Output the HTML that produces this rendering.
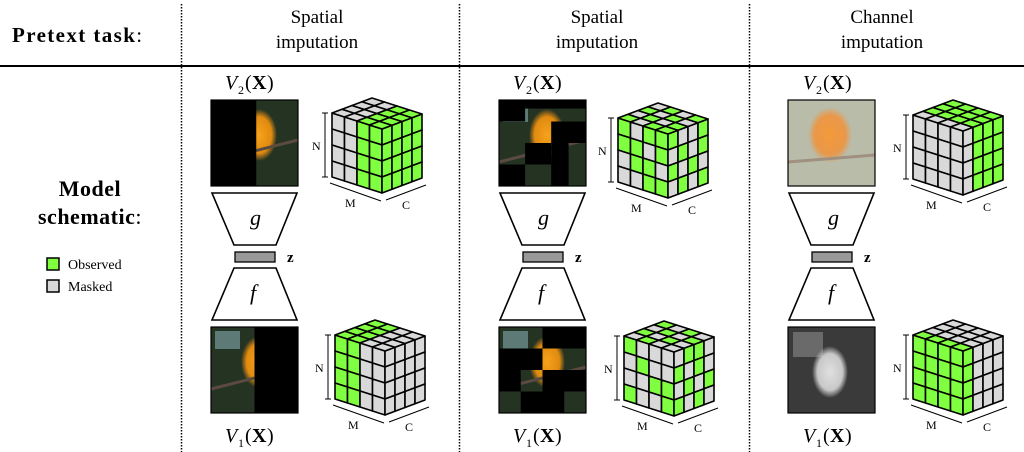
<!DOCTYPE html>
<html><head><meta charset="utf-8">
<style>
html,body{margin:0;padding:0;background:#fff;}
svg{display:block;font-family:"Liberation Serif","DejaVu Serif",serif;}
</style></head>
<body>
<svg id="s" width="1024" height="452" viewBox="0 0 1024 452" xmlns="http://www.w3.org/2000/svg">
<defs>
<radialGradient id="bird" cx="0.5" cy="0.5" r="0.5"><stop offset="0" stop-color="#f7a21a"/><stop offset="0.7" stop-color="#e08a10"/><stop offset="1" stop-color="#e08a10" stop-opacity="0"/></radialGradient>
<radialGradient id="birdp" cx="0.5" cy="0.5" r="0.5"><stop offset="0" stop-color="#f39a3a"/><stop offset="0.7" stop-color="#e9984a"/><stop offset="1" stop-color="#e9984a" stop-opacity="0"/></radialGradient>
<radialGradient id="birdg" cx="0.5" cy="0.5" r="0.5"><stop offset="0" stop-color="#e0e0e0"/><stop offset="0.7" stop-color="#c8c8c8"/><stop offset="1" stop-color="#c8c8c8" stop-opacity="0"/></radialGradient>
</defs>
<text x="12" y="42" font-size="21" font-weight="bold" letter-spacing="1.4">Pretext task<tspan font-weight="normal">:</tspan></text>
<g font-size="19" text-anchor="middle">
<text x="317" y="23">Spatial</text><text x="317" y="48">imputation</text>
<text x="597" y="23">Spatial</text><text x="597" y="48">imputation</text>
<text x="882" y="23">Channel</text><text x="882" y="48">imputation</text>
</g>
<line x1="0" y1="66" x2="1024" y2="66" stroke="#000" stroke-width="2"/>
<g stroke="#000" stroke-width="1.5" stroke-dasharray="1.5,1.5">
<line x1="181.5" y1="4" x2="181.5" y2="452"/>
<line x1="459.5" y1="4" x2="459.5" y2="452"/>
<line x1="749.5" y1="4" x2="749.5" y2="452"/>
</g>
<text x="90" y="196" font-size="22" font-weight="bold" text-anchor="middle" letter-spacing="0.5">Model</text>
<text x="90" y="224" font-size="22" font-weight="bold" text-anchor="middle" letter-spacing="0.5">schematic<tspan font-weight="normal">:</tspan></text>
<rect x="47" y="258" width="12" height="12" fill="#80ff40" stroke="#000" stroke-width="1.5"/>
<rect x="47" y="280" width="12" height="12" fill="#d9d9d9" stroke="#000" stroke-width="1.5"/>
<text x="68" y="269" font-size="14">Observed</text>
<text x="68" y="291" font-size="14">Masked</text>
<g id="cols"></g>
</svg>
<script>
const NS="http://www.w3.org/2000/svg";
const root=document.getElementById('cols');
function el(t,a,txt){const e=document.createElementNS(NS,t);for(const k in a)e.setAttribute(k,a[k]);if(txt!==undefined)e.textContent=txt;root.appendChild(e);return e;}
const G="#80ff40",X="#d9d9d9";
function poly(pts,fill){el('polygon',{points:pts.map(p=>p[0].toFixed(1)+','+p[1].toFixed(1)).join(' '),fill:fill,stroke:'#000','stroke-width':1.6,'stroke-linejoin':'round'});}
function cube(ax,ay,L,R,T){
 const u=[50,16],v=[40,-15],h=64;
 const P=(i,k,j)=>[ax+i*u[0]/4+k*v[0]/4, ay+i*u[1]/4+k*v[1]/4+j*h/4];
 for(let i=0;i<4;i++)for(let j=0;j<4;j++)poly([P(i,0,j),P(i+1,0,j),P(i+1,0,j+1),P(i,0,j+1)],L(i,j)?G:X);
 for(let k=0;k<4;k++)for(let j=0;j<4;j++)poly([P(4,k,j),P(4,k+1,j),P(4,k+1,j+1),P(4,k,j+1)],R(k,j)?G:X);
 for(let i=0;i<4;i++)for(let k=0;k<4;k++)poly([P(i,k,0),P(i+1,k,0),P(i+1,k+1,0),P(i,k+1,0)],T(i,k)?G:X);
 const s={stroke:'#000','stroke-width':1};
 el('line',Object.assign({x1:ax-7,y1:ay,x2:ax-7,y2:ay+h},s));
 el('line',Object.assign({x1:ax-10,y1:ay,x2:ax-4,y2:ay},s));
 el('line',Object.assign({x1:ax-10,y1:ay+h,x2:ax-4,y2:ay+h},s));
 el('text',{x:ax-20,y:ay+h/2+5,'font-size':12},'N');
 const m0=[ax-2,ay+h+6],m1=[ax+u[0]-1,ay+h+u[1]+8];
 el('line',Object.assign({x1:m0[0],y1:m0[1],x2:m1[0],y2:m1[1]},s));
 el('text',{x:ax+13,y:ay+h+u[1]+14,'font-size':12},'M');
 const c0=[ax+u[0]+4,ay+h+u[1]+7],c1=[c0[0]+v[0],c0[1]+v[1]];
 el('line',Object.assign({x1:c0[0],y1:c0[1],x2:c1[0],y2:c1[1]},s));
 el('text',{x:ax+u[0]+20,y:ay+h+u[1]+16,'font-size':12},'C');
}
function img(x,y,kind,masks){
 const w=87,hh=86;
 if(kind==='c'){el('rect',{x,y,width:w,height:hh,fill:'#b9bca9'});el('ellipse',{cx:x+42,cy:y+35,rx:22,ry:28,fill:'url(#birdp)'});el('line',{x1:x,y1:y+62,x2:x+w,y2:y+55,stroke:'#a09080','stroke-width':3});}
 else if(kind==='g'){el('rect',{x,y,width:w,height:hh,fill:'#3a3a3a'});el('rect',{x:x+5,y:y+5,width:30,height:25,fill:'#6a6a6a'});el('ellipse',{cx:x+42,cy:y+45,rx:18,ry:26,fill:'url(#birdg)'});}
 else{el('rect',{x,y,width:w,height:hh,fill:'#243322'});el('rect',{x:x+4,y:y+4,width:25,height:18,fill:'#5d7a77'});el('ellipse',{cx:x+48,cy:y+35,rx:18,ry:26,fill:'url(#bird)'});el('line',{x1:x,y1:y+62,x2:x+w,y2:y+40,stroke:'#5a4a40','stroke-width':3});}
 (masks||[]).forEach(m=>el('rect',{x:x+m[0]*w,y:y+m[1]*hh,width:m[2]*w,height:m[3]*hh,fill:'#000'}));
 el('rect',{x,y,width:w,height:hh,fill:'none',stroke:'#000','stroke-width':1.2});
}
function column(cx,ix,kTop,kBot,mTop,mBot){
 el('text',{x:cx-30,y:89,'font-size':20,'font-style':'italic'},'V');
 el('text',{x:cx-17,y:94,'font-size':12},'2');
 el('text',{x:cx-10,y:89,'font-size':20},'(');el('text',{x:cx-3,y:89,'font-size':20,'font-weight':'bold'},'X');el('text',{x:cx+12,y:89,'font-size':20},')');
 img(ix,100,kTop,mTop);
 el('polygon',{points:`${ix+1},193 ${ix+86},193 ${ix+65},245 ${ix+23},245`,fill:'#fff',stroke:'#000','stroke-width':1.6});
 el('text',{x:cx-5,y:225,'font-size':22,'font-style':'italic'},'g');
 el('rect',{x:ix+24,y:252,width:40,height:10,fill:'#999',stroke:'#000','stroke-width':1.3});
 el('text',{x:ix+76,y:262,'font-size':15,'font-weight':'bold'},'z');
 el('polygon',{points:`${ix+23},268 ${ix+65},268 ${ix+86},320 ${ix+1},320`,fill:'#fff',stroke:'#000','stroke-width':1.6});
 el('text',{x:cx-5,y:300,'font-size':22,'font-style':'italic'},'f');
 img(ix,327,kBot,mBot);
 el('text',{x:cx-30,y:442,'font-size':20,'font-style':'italic'},'V');
 el('text',{x:cx-17,y:447,'font-size':12},'1');
 el('text',{x:cx-10,y:442,'font-size':20},'(');el('text',{x:cx-3,y:442,'font-size':20,'font-weight':'bold'},'X');el('text',{x:cx+12,y:442,'font-size':20},')');
}
column(255,211,'n','n',[[0,0,0.52,1]],[[0.5,0,0.5,1]]);
column(543,499,'n','n',[[0,0,0.3,0.25],[0.3,0,0.7,0.1],[0.6,0.25,0.4,0.25],[0.3,0.5,0.3,0.25],[0,0.75,0.3,0.25],[0.6,0.5,0.2,0.5]],[[0.5,0,0.5,0.25],[0,0.25,0.5,0.25],[0,0.5,0.25,0.25],[0.5,0.5,0.5,0.25],[0.25,0.75,0.5,0.25]]);
column(833,788,'c','g',[],[]);
cube(332,113,(i,j)=>i>=2,(k,j)=>true,(i,k)=>i>=2);
cube(335,335,(i,j)=>i<2,(k,j)=>false,(i,k)=>i<2);
const Ls=[[1,0,1,1],[1,1,0,1],[0,1,1,0],[0,0,1,1]],Rs=[[1,0,0,1],[0,1,0,1],[1,0,1,0],[0,1,0,1]],Ts=[[1,0,1,0],[0,1,0,1],[1,0,1,0],[1,1,0,1]];
cube(618,118,(i,j)=>Ls[j][i],(k,j)=>Rs[j][k],(i,k)=>Ts[i][k]);
cube(624,336,(i,j)=>!Ls[j][(i+1)%4],(k,j)=>!Rs[j][k],(i,k)=>!Ts[i][k]);
cube(913,115,(i,j)=>false,(k,j)=>k>=1,(i,k)=>k>=1);
cube(913,335,(i,j)=>true,(k,j)=>k<1,(i,k)=>k<1);
</script>
</body></html>
